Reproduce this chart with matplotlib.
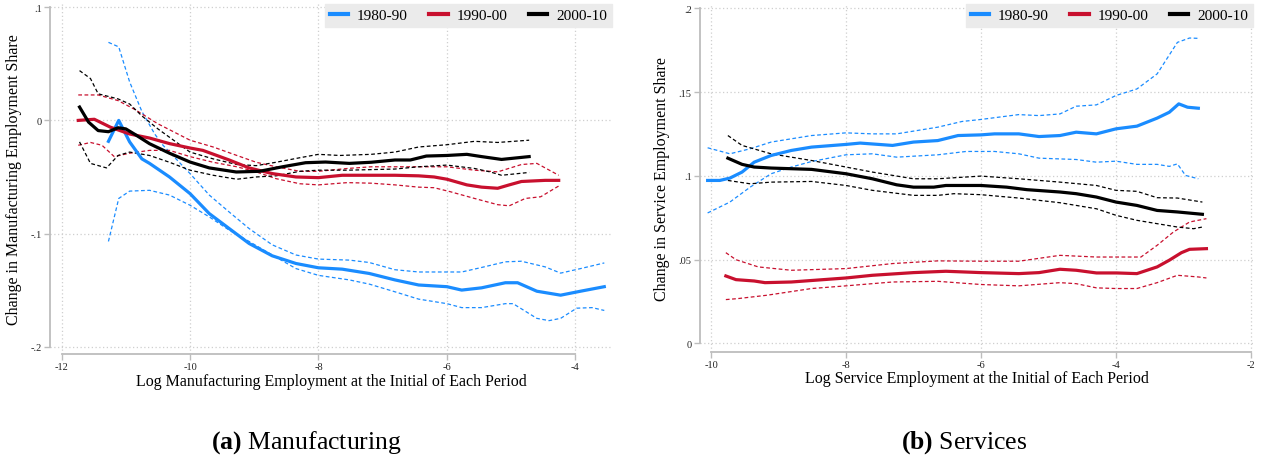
import numpy as np
import matplotlib
matplotlib.use("Agg")
import matplotlib.pyplot as plt
from matplotlib.lines import Line2D

# ── Manufacturing (panel a) ───────────────────────────────────────────────────
m80_x  = [-11.27, -11.11, -10.94, -10.75, -10.63, -10.32, -10.0, -9.70, -9.39, -9.08, -8.72, -8.35, -8.0,
          -7.63, -7.21, -6.81, -6.44, -6.0, -5.77, -5.46, -5.09, -4.9, -4.6, -4.23, -3.92, -3.55]
m80_y  = [-0.0185, 0.0, -0.019, -0.034, -0.038, -0.050, -0.0647, -0.0824, -0.0956, -0.1088, -0.1197, -0.1265,
          -0.1303, -0.1315, -0.1353, -0.141, -0.1455, -0.147, -0.150, -0.148, -0.1435, -0.1435, -0.151,
          -0.1545, -0.151, -0.147]
m80_hx = [-11.27, -11.11, -10.94, -10.75, -10.55, -10.42, -10.0, -9.70, -9.39, -9.08, -8.72, -8.35, -8.0,
          -7.52, -7.21, -6.81, -6.44, -6.0, -5.77, -5.46, -5.09, -4.84, -4.47, -4.23, -3.92, -3.55]
m80_hi = [0.069, 0.065, 0.034, 0.008, -0.012, -0.022, -0.047, -0.066, -0.081, -0.0956, -0.110, -0.119,
          -0.1226, -0.1235, -0.1256, -0.132, -0.134, -0.134, -0.134, -0.130, -0.125, -0.1245, -0.1295,
          -0.135, -0.131, -0.126]
m80_lx = [-11.27, -11.11, -10.94, -10.63, -10.32, -10.0, -9.70, -9.39, -9.08, -8.72, -8.35, -8.0,
          -7.52, -7.21, -6.81, -6.44, -6.0, -5.77, -5.46, -5.09, -4.97, -4.6, -4.41, -4.23, -3.98, -3.74, -3.55]
m80_lo = [-0.107, -0.069, -0.0625, -0.0618, -0.066, -0.075, -0.0853, -0.097, -0.107, -0.119, -0.131, -0.137,
          -0.141, -0.1447, -0.1515, -0.158, -0.162, -0.1655, -0.1655, -0.162, -0.162, -0.175, -0.177, -0.175,
          -0.166, -0.1655, -0.168]

m90_x  = [-11.74, -11.49, -11.24, -10.94, -10.63, -10.32, -10.0, -9.80, -9.39, -9.08, -8.72, -8.35,
          -8.0, -7.63, -7.18, -6.81, -6.44, -6.2, -6.0, -5.69, -5.46, -5.21, -5.03, -4.84, -4.47, -4.26]
m90_y  = [0.0, 0.001, -0.006, -0.012, -0.0156, -0.0205, -0.0244, -0.0265, -0.035, -0.042, -0.047, -0.050,
          -0.0506, -0.0485, -0.0485, -0.0485, -0.049, -0.050, -0.052, -0.057, -0.059, -0.060, -0.057, -0.054,
          -0.053, -0.053]
m90_hx = [-11.74, -11.43, -11.12, -10.87, -10.5, -10.0, -9.64, -9.27, -8.97, -8.66, -8.29, -8.0,
          -7.55, -7.18, -6.81, -6.44, -6.0, -5.57, -5.21, -4.84, -4.6, -4.26]
m90_hi = [0.0225, 0.0225, 0.0175, 0.010, -0.003, -0.0175, -0.0235, -0.031, -0.037, -0.041, -0.045, -0.045,
          -0.0425, -0.041, -0.041, -0.041, -0.041, -0.044, -0.0455, -0.039, -0.038, -0.0485]
m90_lx = [-11.74, -11.55, -11.37, -11.18, -10.94, -10.63, -10.32, -10.0, -9.64, -9.27, -8.97, -8.66, -8.29,
          -8.0, -7.55, -7.18, -6.81, -6.44, -6.2, -5.95, -5.57, -5.21, -5.03, -4.78, -4.54, -4.26]
m90_lo = [-0.022, -0.0195, -0.022, -0.032, -0.029, -0.0265, -0.0265, -0.032, -0.037, -0.041, -0.0455, -0.0515,
          -0.056, -0.057, -0.055, -0.0555, -0.057, -0.059, -0.0595, -0.063, -0.069, -0.0745, -0.0755, -0.069,
          -0.0675, -0.058]

m00_x  = [-11.72, -11.58, -11.43, -11.27, -11.12, -11.0, -10.84, -10.63, -10.32, -10.0, -9.70, -9.28, -8.92,
          -8.56, -8.2, -7.89, -7.52, -7.18, -6.81, -6.57, -6.32, -6.0, -5.69, -5.46, -5.15, -4.72]
m00_y  = [0.0118, -0.0015, -0.009, -0.010, -0.0065, -0.0075, -0.013, -0.0206, -0.029, -0.0368, -0.042, -0.0456,
          -0.045, -0.041, -0.0374, -0.0368, -0.038, -0.037, -0.035, -0.035, -0.0315, -0.031, -0.030, -0.032,
          -0.0345, -0.032]
m00_hx = [-11.72, -11.55, -11.43, -11.12, -10.94, -10.75, -10.5, -10.0, -9.64, -9.27, -8.97, -8.66, -8.29,
          -8.0, -7.67, -7.18, -6.81, -6.44, -6.0, -5.57, -5.21, -4.72]
m00_hi = [0.044, 0.037, 0.0235, 0.019, 0.0145, 0.004, -0.0075, -0.028, -0.034, -0.039, -0.040, -0.037, -0.033,
          -0.030, -0.031, -0.030, -0.028, -0.0235, -0.0215, -0.0185, -0.0195, -0.0175]
m00_lx = [-11.72, -11.55, -11.3, -11.12, -10.94, -10.63, -10.32, -10.0, -9.64, -9.27, -8.97, -8.66, -8.29,
          -8.0, -7.55, -7.18, -6.81, -6.44, -6.0, -5.57, -5.33, -5.15, -4.72]
m00_lo = [-0.019, -0.038, -0.042, -0.031, -0.028, -0.031, -0.037, -0.044, -0.0485, -0.052, -0.050, -0.049,
          -0.045, -0.044, -0.044, -0.0435, -0.043, -0.041, -0.0395, -0.0425, -0.0455, -0.0485, -0.046]

# ── Services (panel b) ────────────────────────────────────────────────────────
s80_x  = [-10.05, -9.87, -9.72, -9.54, -9.36, -9.11, -8.81, -8.51, -8.0, -7.79, -7.31, -7.0, -6.64, -6.34,
          -6.0, -5.8, -5.44, -5.14, -4.83, -4.59, -4.29, -4.0, -3.69, -3.39, -3.21, -3.07, -2.94, -2.78]
s80_y  = [0.0973, 0.0973, 0.0987, 0.1023, 0.1082, 0.1122, 0.1152, 0.1172, 0.1188, 0.1196, 0.1182, 0.1202,
          0.1211, 0.1241, 0.1245, 0.1251, 0.1251, 0.1235, 0.1241, 0.1261, 0.1251, 0.1281, 0.1297, 0.1345,
          0.138, 0.143, 0.141, 0.1404]
s80_hx = [-10.05, -9.72, -9.42, -9.11, -8.51, -8.0, -7.61, -7.25, -6.64, -6.28, -6.0, -5.44, -5.14, -4.83,
          -4.59, -4.29, -4.0, -3.69, -3.39, -3.09, -2.91, -2.78]
s80_hi = [0.1168, 0.1132, 0.1162, 0.1202, 0.1241, 0.1257, 0.1251, 0.1251, 0.1291, 0.1325, 0.1337, 0.1366,
          0.136, 0.137, 0.1416, 0.1424, 0.148, 0.1519, 0.1609, 0.1797, 0.1823, 0.1821]
s80_lx = [-10.05, -9.72, -9.42, -9.11, -8.81, -8.51, -8.0, -7.61, -7.25, -6.64, -6.22, -5.8, -5.44, -5.14,
          -4.59, -4.29, -4.0, -3.69, -3.39, -3.21, -3.09, -2.97, -2.78]
s80_lo = [0.0779, 0.0844, 0.0933, 0.1013, 0.1053, 0.1086, 0.1126, 0.1132, 0.1112, 0.1126, 0.1146, 0.1146,
          0.1132, 0.1106, 0.1098, 0.1082, 0.1088, 0.1069, 0.1069, 0.1057, 0.1072, 0.1003, 0.0983]

s90_x  = [-9.78, -9.63, -9.36, -9.2, -8.81, -8.0, -7.61, -7.0, -6.52, -6.0, -5.44, -5.14, -4.83, -4.59, -4.29,
          -3.99, -3.69, -3.39, -3.21, -3.03, -2.91, -2.66]
s90_y  = [0.0403, 0.0381, 0.0373, 0.0363, 0.0367, 0.0391, 0.0407, 0.0423, 0.0431, 0.0423, 0.0417, 0.0423,
          0.0443, 0.0437, 0.0421, 0.0421, 0.0417, 0.0457, 0.0497, 0.0542, 0.0562, 0.0566]
s90_hx = [-9.78, -9.63, -9.3, -8.81, -8.0, -7.31, -6.64, -6.0, -5.44, -4.83, -4.29, -3.99, -3.63, -3.39,
          -3.15, -2.91, -2.66]
s90_hi = [0.0542, 0.050, 0.0457, 0.0437, 0.0447, 0.0477, 0.0493, 0.0491, 0.0491, 0.0526, 0.0516, 0.0516,
          0.0516, 0.0586, 0.0665, 0.0725, 0.0745]
s90_lx = [-9.78, -9.6, -9.17, -8.51, -8.0, -7.31, -6.64, -6.0, -5.44, -4.83, -4.59, -4.29, -4.0, -3.69,
          -3.39, -3.09, -2.78, -2.66]
s90_lo = [0.0262, 0.0268, 0.0288, 0.0328, 0.0344, 0.0367, 0.0371, 0.0352, 0.0344, 0.0363, 0.0357, 0.0332,
          0.0328, 0.0328, 0.0363, 0.0407, 0.0397, 0.0391]

s00_x  = [-9.75, -9.54, -9.36, -9.11, -8.51, -8.0, -7.61, -7.25, -7.0, -6.7, -6.52, -6.0, -5.62, -5.32,
          -4.83, -4.59, -4.29, -4.0, -3.69, -3.39, -3.09, -2.72]
s00_y  = [0.1106, 0.1069, 0.1053, 0.1047, 0.1039, 0.1013, 0.0983, 0.0947, 0.0933, 0.0933, 0.0943, 0.0943,
          0.0933, 0.0918, 0.0904, 0.0894, 0.0874, 0.0844, 0.0824, 0.0794, 0.0785, 0.0771]
s00_hx = [-9.75, -9.54, -9.11, -8.51, -8.0, -7.61, -7.0, -6.64, -6.0, -5.44, -4.83, -4.29, -4.0, -3.69,
          -3.39, -3.09, -2.72]
s00_hi = [0.1241, 0.1182, 0.1132, 0.1092, 0.1053, 0.1023, 0.0983, 0.0983, 0.0999, 0.0983, 0.0963, 0.0943,
          0.0914, 0.0908, 0.087, 0.0868, 0.0844]
s00_lx = [-9.75, -9.42, -9.11, -8.51, -8.0, -7.61, -7.0, -6.64, -6.4, -6.0, -5.44, -4.83, -4.29, -4.0,
          -3.69, -3.39, -3.09, -2.85, -2.72]
s00_lo = [0.0973, 0.0953, 0.0963, 0.0967, 0.0943, 0.0914, 0.0884, 0.0884, 0.0894, 0.0888, 0.0868, 0.084,
          0.0804, 0.0765, 0.0735, 0.0715, 0.0695, 0.0685, 0.0695]

periods = ["1980-90", "1990-00", "2000-10"]
colors  = ["#1a8cff", "#c8102e", "#000000"]

plt.rcParams["font.family"] = ["Liberation Serif", "DejaVu Serif"]
plt.rcParams["mathtext.fontset"] = "custom"
plt.rcParams["mathtext.rm"] = "Liberation Serif"
plt.rcParams["mathtext.bf"] = "Liberation Serif:bold"

W, H = 1266, 464
fig = plt.figure(figsize=(W / 100, H / 100), dpi=100)

def px_axes(l, r, t, b):
    return fig.add_axes([l / W, 1 - b / H, (r - l) / W, (b - t) / H])

GRID = "#cfcfcf"
SPINE = "#bdbdbd"

def style(ax, xticks, yticks, ylabs, xlabel, ylabel):
    for s in ("top", "right"):
        ax.spines[s].set_visible(False)
    for s in ("left", "bottom"):
        ax.spines[s].set_color(SPINE)
        ax.spines[s].set_linewidth(1.3)
    # axis lines span only from first to last tick
    ax.spines["bottom"].set_bounds(xticks[0], xticks[-1])
    ax.spines["left"].set_bounds(yticks[0], yticks[-1])
    ax.set_xticks(xticks)
    ax.set_xticklabels([str(t) for t in xticks])
    ax.set_yticks(yticks)
    ax.set_yticklabels(ylabs)
    ax.tick_params(colors=SPINE, labelcolor="#222222", labelsize=7.5, length=4, width=1, pad=2)
    ax.grid(True, color=GRID, ls=(0, (1, 2)), lw=0.9)
    ax.set_axisbelow(True)
    ax.set_xlabel(xlabel, fontsize=11.5, labelpad=1)
    ax.set_ylabel(ylabel, fontsize=11.5, labelpad=6)

def draw(ax, series):
    for (x, y, hx, hi, lx, lo), c in zip(series, colors):
        ax.plot(hx, hi, color=c, lw=0.9, ls=(0, (3, 2)))
        ax.plot(lx, lo, color=c, lw=0.9, ls=(0, (3, 2)))
    for (x, y, hx, hi, lx, lo), c in zip(series, colors):
        ax.plot(x, y, color=c, lw=2.3, solid_joinstyle="round")

def legend(ax):
    handles = [Line2D([0], [0], color=c, lw=3) for c in colors]
    lg = ax.legend(handles, periods, loc="upper right", ncol=3, frameon=True,
                   fontsize=11, handlelength=1.2, columnspacing=1.4, handletextpad=0.6,
                   borderpad=0.3, borderaxespad=0.0, fancybox=False)
    lg.get_frame().set_facecolor("#ebebeb")
    lg.get_frame().set_edgecolor("#ebebeb")
    lg.get_frame().set_alpha(1)

# Panel (a)
ax1 = px_axes(50, 612, 5, 355)
draw(ax1, [(m80_x, m80_y, m80_hx, m80_hi, m80_lx, m80_lo),
           (m90_x, m90_y, m90_hx, m90_hi, m90_lx, m90_lo),
           (m00_x, m00_y, m00_hx, m00_hi, m00_lx, m00_lo)])
ax1.set_xlim(-12.18, -3.43)
ax1.set_ylim(-0.2065, 0.1029)
style(ax1, [-12, -10, -8, -6, -4], [-0.2, -0.1, 0, 0.1], ["-.2", "-.1", "0", ".1"],
      "Log Manufacturing Employment at the Initial of Each Period",
      "Change in Manufacturing Employment Share")
legend(ax1)

# Panel (b)
ax2 = px_axes(700, 1253, 5, 352.7)
draw(ax2, [(s80_x, s80_y, s80_hx, s80_hi, s80_lx, s80_lo),
           (s90_x, s90_y, s90_hx, s90_hi, s90_lx, s90_lo),
           (s00_x, s00_y, s00_hx, s00_hi, s00_lx, s00_lo)])
ax2.set_xlim(-10.163, -1.97)
ax2.set_ylim(-0.0049, 0.2026)
style(ax2, [-10, -8, -6, -4, -2], [0, 0.05, 0.1, 0.15, 0.2], ["0", ".05", ".1", ".15", ".2"],
      "Log Service Employment at the Initial of Each Period",
      "Change in Service Employment Share")
legend(ax2)

# Captions
fig.text(306 / W, 1 - 443 / H, r"$\mathbf{(a)}$ Manufacturing", ha="center", va="center", fontsize=18.5)
fig.text(964 / W, 1 - 443 / H, r"$\mathbf{(b)}$ Services", ha="center", va="center", fontsize=18.5)

fig.savefig("out.png", dpi=100)
